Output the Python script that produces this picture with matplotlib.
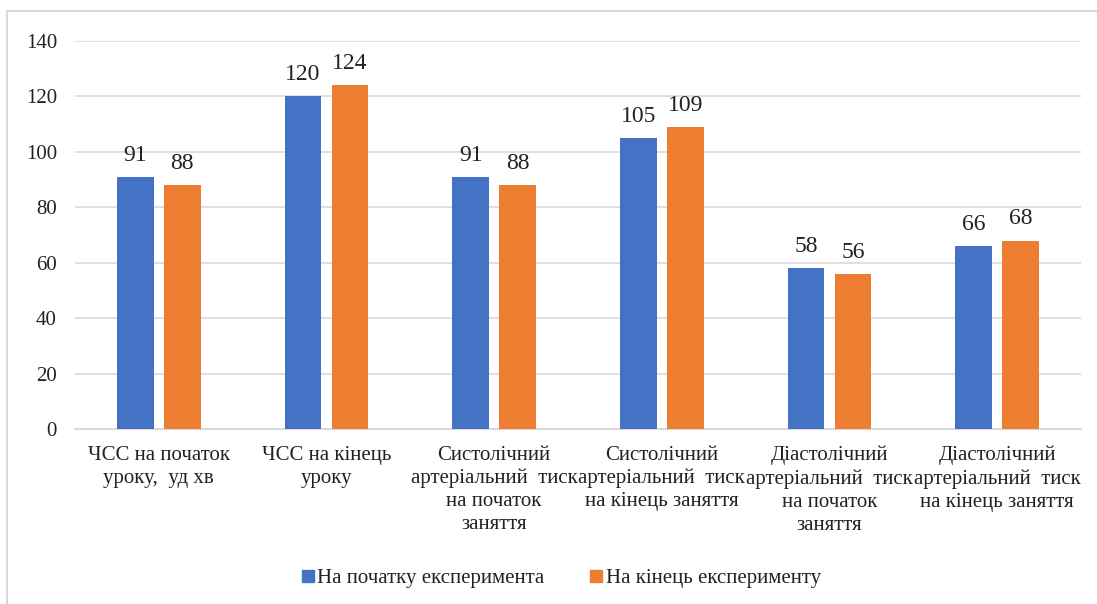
import matplotlib.pyplot as plt
from matplotlib.lines import Line2D
import numpy as np

categories = [
    "ЧСС на початок\nуроку,  уд хв",
    "ЧСС на кінець\nуроку",
    "Систолічний\nартеріальний  тиск\nна початок\nзаняття",
    "Систолічний\nартеріальний  тиск\nна кінець заняття",
    "Діастолічний\nартеріальний  тиск\nна початок\nзаняття",
    "Діастолічний\nартеріальний  тиск\nна кінець заняття",
]
start_vals = [91, 120, 91, 105, 58, 66]
end_vals = [88, 124, 88, 109, 56, 68]
series_names = ["На початку експеримента", "На кінець експерименту"]
yticks = [0, 20, 40, 60, 80, 100, 120, 140]

blue = "#4472C4"
orange = "#ED7D31"
grid = "#D9D9D9"
txt = "#222222"

plt.rcParams['font.family'] = ['Liberation Serif', 'DejaVu Serif']

fig = plt.figure(figsize=(10.97, 6.04), dpi=100)
W, H = 1097, 604
ax = fig.add_axes([75 / W, 175 / H, (1081 - 75) / W, 388 / H])

x = np.arange(len(categories))
bw = 0.22
off = 0.14
b1 = ax.bar(x - off, start_vals, bw, color=blue, zorder=3)
b2 = ax.bar(x + off, end_vals, bw, color=orange, zorder=3)
ax.bar_label(b1, fontsize=17, padding=8, color=txt)
ax.bar_label(b2, fontsize=17, padding=8, color=txt)

ax.set_xlim(-0.5, len(categories) - 0.5)
ax.set_ylim(0, 140)
ax.set_yticks(yticks)
ax.set_yticklabels([str(v) for v in yticks], fontsize=15, color=txt)
ax.set_xticks(x)
ax.set_xticklabels(categories, fontsize=15, color=txt, va='top', linespacing=1.28)
ax.tick_params(axis='y', length=0, pad=13)
ax.tick_params(axis='x', length=0, pad=12)
ax.yaxis.grid(True, color=grid, linewidth=1.2, zorder=0)
for s in ['top', 'right', 'left']:
    ax.spines[s].set_visible(False)
ax.spines['bottom'].set_color(grid)
ax.spines['bottom'].set_linewidth(1.5)

handles = [Line2D([], [], marker='s', linestyle='', color=blue, markersize=8),
           Line2D([], [], marker='s', linestyle='', color=orange, markersize=8)]
fig.legend(handles, series_names, loc='center', bbox_to_anchor=(561 / W, 1 - 578 / H),
           ncol=2, frameon=False, fontsize=15, handlelength=0.6, handletextpad=0.15,
           columnspacing=2.2, labelcolor=txt)

# chart border (left and top edges visible)
fig.add_artist(Line2D([7 / W, 7 / W], [0, 1 - 11 / H], color=grid, linewidth=1.5,
                      transform=fig.transFigure))
fig.add_artist(Line2D([7 / W, 1], [1 - 11 / H, 1 - 11 / H], color=grid, linewidth=1.5,
                      transform=fig.transFigure))

fig.savefig("out.png", dpi=100)
